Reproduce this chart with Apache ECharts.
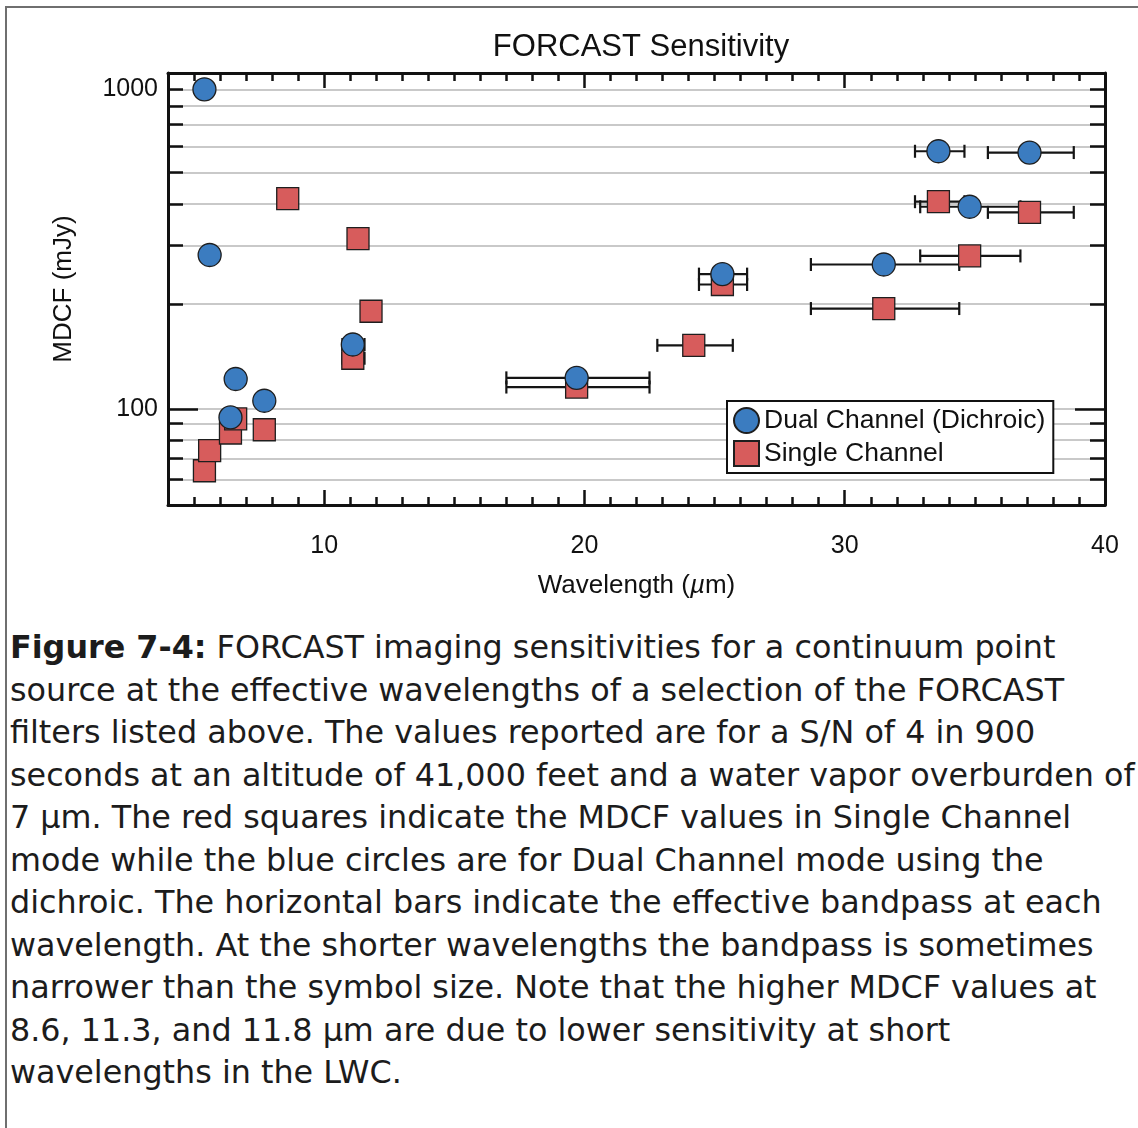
<!DOCTYPE html>
<html>
<head>
<meta charset="utf-8">
<script src="https://cdn.jsdelivr.net/npm/echarts@6/dist/echarts.min.js"></script>
<style>
  html, body { margin: 0; padding: 0; background: #ffffff; }
  #frame { position: absolute; left: 5px; top: 6px; width: 1140px; height: 1130px;
           border-top: 2px solid #6f6f6f; border-left: 2px solid #6f6f6f; }
  #chart { position: absolute; left: 0; top: 0; width: 1138px; height: 615px; }
  #caption { position: absolute; left: 10px; top: 626px; width: 1130px;
             font-family: "DejaVu Sans", Verdana, sans-serif; font-size: 31.8px;
             line-height: 42.5px; color: #1c1c1c; white-space: nowrap; }
</style>
</head>
<body>
<div id="frame"></div>
<div id="chart"></div>
<div id="caption"><b>Figure 7-4:</b> FORCAST imaging sensitivities for a continuum point<br>source at the effective wavelengths of a selection of the FORCAST<br>filters listed above. The values reported are for a S/N of 4 in 900<br>seconds at an altitude of 41,000 feet and a water vapor overburden of<br>7 µm. The red squares indicate the MDCF values in Single Channel<br>mode while the blue circles are for Dual Channel mode using the<br>dichroic. The horizontal bars indicate the effective bandpass at each<br>wavelength. At the shorter wavelengths the bandpass is sometimes<br>narrower than the symbol size. Note that the higher MDCF values at<br>8.6, 11.3, and 11.8 µm are due to lower sensitivity at short<br>wavelengths in the LWC.</div>
<script>
// ---- data ----
const dualWavelength = [5.4, 5.6, 6.4, 6.6, 7.7, 11.1, 19.7, 25.3, 31.5, 33.6, 34.8, 37.1];
const dualMDCF       = [1000, 303, 94, 124, 106, 159, 125, 264, 283, 640, 429, 634];
const dualBandLow    = [null, null, null, null, null, 10.7, 17.0, 24.4, 28.7, 32.7, 32.9, 35.5];
const dualBandHigh   = [null, null, null, null, null, 11.55, 22.5, 26.25, 34.4, 34.6, 36.75, 38.8];

const singleWavelength = [5.4, 5.6, 6.4, 6.6, 7.7, 8.6, 11.1, 11.3, 11.8, 19.7, 24.2, 25.3, 31.5, 33.6, 34.8, 37.1];
const singleMDCF       = [64, 74, 84, 93, 86, 455, 144, 341, 202, 117, 158, 245, 206, 445, 301, 412];
const singleBandLow    = [null, null, null, null, null, null, 10.7, null, null, 17.0, 22.8, 24.4, 28.7, 32.7, 32.9, 35.5];
const singleBandHigh   = [null, null, null, null, null, null, 11.55, null, null, 22.5, 25.7, 26.25, 34.4, 34.6, 36.75, 38.8];

const xMinorTicks = [5,6,7,8,9,11,12,13,14,15,16,17,18,19,21,22,23,24,25,26,27,28,29,31,32,33,34,35,36,37,38,39];
const xMajorTicks = [10, 20, 30];
const xTickLabels = [10, 20, 30, 40];
const yMinorTicks = [60, 70, 80, 90, 100, 212.5, 325, 437.5, 550, 662.5, 775, 887.5, 1000];
const yMajorTicks = [100];
const yTickLabels = [100, 1000];

const DUAL = 'Dual Channel (Dichroic)';
const SINGLE = 'Single Channel';
const FONT = '"Liberation Sans", Arial, Helvetica, sans-serif';

function zipPoints(xs, ys) { return xs.map((x, i) => [x, ys[i]]); }
function zipBands(lo, hi, ys) {
  const out = [];
  lo.forEach((l, i) => { if (l != null) out.push([l, hi[i], ys[i]]); });
  return out;
}

function renderBar(params, api) {
  const a = api.coord([api.value(0), api.value(2)]);
  const b = api.coord([api.value(1), api.value(2)]);
  const h = 6.5;
  const st = { stroke: '#151515', lineWidth: 2.2 };
  return { type: 'group', children: [
    { type: 'line', shape: { x1: a[0], y1: a[1], x2: b[0], y2: b[1] }, style: st },
    { type: 'line', shape: { x1: a[0], y1: a[1] - h, x2: a[0], y2: a[1] + h }, style: st },
    { type: 'line', shape: { x1: b[0], y1: b[1] - h, x2: b[0], y2: b[1] + h }, style: st }
  ]};
}

const lineStyle = { color: '#111', width: 3 };
const tickStyle = { color: '#111', width: 2.5 };
const plainNum = v => String(v);

function xAx(pos, ticks, len, showLine, labels, extra) {
  return Object.assign({
    type: 'value', position: pos, min: 4, max: 40,
    axisLine: { show: showLine, onZero: false, lineStyle: lineStyle },
    axisTick: { show: true, inside: true, length: len, customValues: ticks, lineStyle: tickStyle },
    axisLabel: labels ? { show: true, customValues: labels, formatter: plainNum, fontSize: 25, color: '#111', fontFamily: FONT, margin: 29 } : { show: false },
    splitLine: { show: false }
  }, extra || {});
}
function yAx(pos, ticks, len, showLine, labels, split, extra) {
  return Object.assign({
    type: 'log', logBase: 10, position: pos, min: 50, max: 1125,
    axisLine: { show: showLine, onZero: false, lineStyle: lineStyle },
    axisTick: { show: true, inside: true, length: len, customValues: ticks, lineStyle: tickStyle },
    axisLabel: labels ? { show: true, customValues: labels, formatter: plainNum, fontSize: 25, color: '#111', fontFamily: FONT, margin: 10 } : { show: false },
    splitLine: split ? { show: true, lineStyle: { color: '#c9c9c9', width: 2 } } : { show: false },
    minorTick: { show: false }, minorSplitLine: { show: false }
  }, extra || {});
}

const chart = echarts.init(document.getElementById('chart'), null, { renderer: 'canvas' });
chart.setOption({
  animation: false,
  backgroundColor: 'transparent',
  title: {
    text: 'FORCAST Sensitivity', left: 636, top: 27, textAlign: 'center',
    textStyle: { fontSize: 31, fontWeight: 'normal', color: '#111', fontFamily: FONT }
  },
  grid: { left: 168, top: 73, width: 937, height: 432, containLabel: false },
  legend: {
    orient: 'vertical', left: 727, top: 401,
    data: [{ name: DUAL, icon: 'circle' }, { name: SINGLE, icon: 'rect' }],
    itemWidth: 25, itemHeight: 25, itemGap: 6,
    padding: [6, 8, 6, 6],
    backgroundColor: '#ffffff', borderColor: '#111', borderWidth: 2, borderRadius: 0,
    textStyle: { fontSize: 26.5, color: '#111', fontFamily: FONT },
    z: 10
  },
  xAxis: [
    xAx('bottom', xMinorTicks, 8, true, xTickLabels, {
      name: 'Wavelength ({i|µ}m)', nameLocation: 'middle', nameGap: 68,
      nameTextStyle: { fontSize: 26, color: '#111', fontFamily: FONT,
        rich: { i: { fontSize: 26, fontStyle: 'italic', fontFamily: FONT, color: '#111' } } }
    }),
    xAx('bottom', xMajorTicks, 15, false, null),
    xAx('top', xMinorTicks, 8, true, null),
    xAx('top', xMajorTicks, 15, false, null)
  ],
  yAxis: [
    yAx('left', yMinorTicks, 15, true, yTickLabels, true, {
      name: 'MDCF (mJy)', nameLocation: 'middle', nameGap: 91, nameRotate: 90,
      nameTextStyle: { fontSize: 26, color: '#111', fontFamily: FONT }
    }),
    yAx('left', yMajorTicks, 30, false, null, false),
    yAx('right', yMinorTicks, 15, true, null, false),
    yAx('right', yMajorTicks, 30, false, null, false)
  ],
  series: [
    { name: 'dual-band', type: 'custom', renderItem: renderBar, xAxisIndex: 0, yAxisIndex: 0,
      encode: { x: [0, 1], y: 2 }, data: zipBands(dualBandLow, dualBandHigh, dualMDCF), z: 3, silent: true },
    { name: 'single-band', type: 'custom', renderItem: renderBar, xAxisIndex: 0, yAxisIndex: 0,
      encode: { x: [0, 1], y: 2 }, data: zipBands(singleBandLow, singleBandHigh, singleMDCF), z: 3, silent: true },
    { name: SINGLE, type: 'scatter', symbol: 'rect', symbolSize: 22, xAxisIndex: 0, yAxisIndex: 0,
      data: zipPoints(singleWavelength, singleMDCF), z: 4,
      itemStyle: { color: '#d75c5c', borderColor: '#1e1e1e', borderWidth: 1.3, opacity: 1 } },
    { name: DUAL, type: 'scatter', symbol: 'circle', symbolSize: 23, xAxisIndex: 0, yAxisIndex: 0,
      data: zipPoints(dualWavelength, dualMDCF), z: 5,
      itemStyle: { color: '#3b7cc0', borderColor: '#1e1e1e', borderWidth: 1.3, opacity: 1 } }
  ]
});
</script>
</body>
</html>
